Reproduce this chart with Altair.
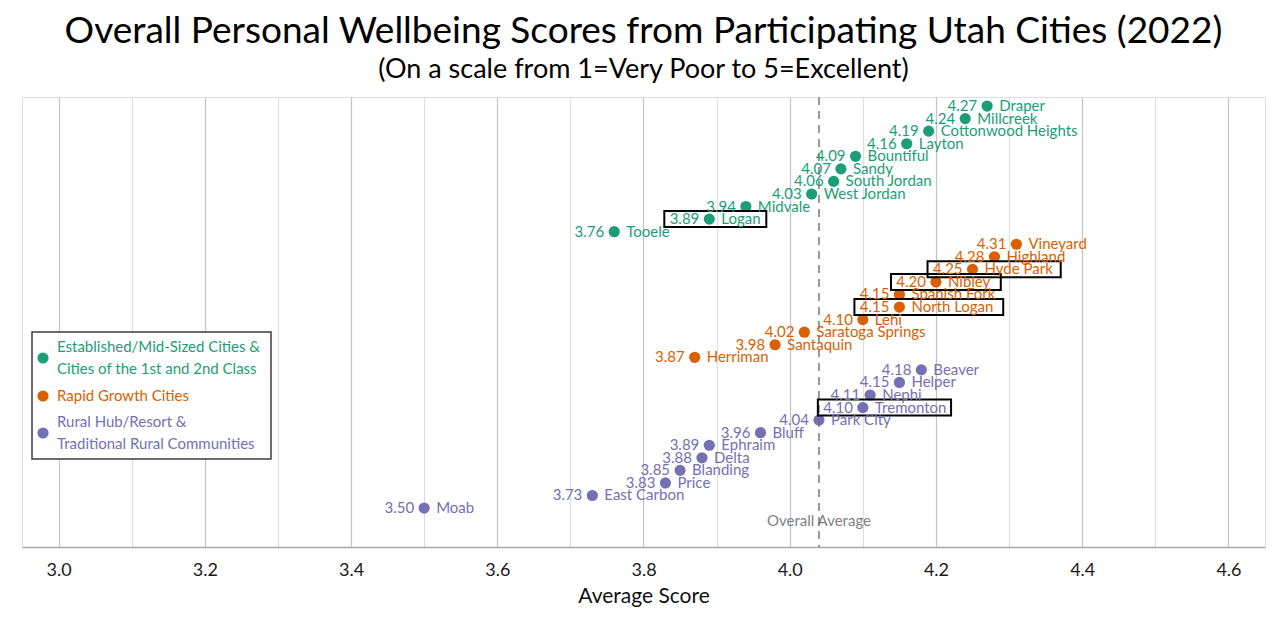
import altair as alt
import pandas as pd

# ---- data -------------------------------------------------------------
ESTABLISHED_CITIES = ["Draper", "Millcreek", "Cottonwood Heights", "Layton", "Bountiful",
                      "Sandy", "South Jordan", "West Jordan", "Midvale", "Logan", "Tooele"]
ESTABLISHED_SCORES = [4.27, 4.24, 4.19, 4.16, 4.09, 4.07, 4.06, 4.03, 3.94, 3.89, 3.76]

RAPID_CITIES = ["Vineyard", "Highland", "Hyde Park", "Nibley", "Spanish Fork",
                "North Logan", "Lehi", "Saratoga Springs", "Santaquin", "Herriman"]
RAPID_SCORES = [4.31, 4.28, 4.25, 4.20, 4.15, 4.15, 4.10, 4.02, 3.98, 3.87]

RURAL_CITIES = ["Beaver", "Helper", "Nephi", "Tremonton", "Park City", "Bluff",
                "Ephraim", "Delta", "Blanding", "Price", "East Carbon", "Moab"]
RURAL_SCORES = [4.18, 4.15, 4.11, 4.10, 4.04, 3.96, 3.89, 3.88, 3.85, 3.83, 3.73, 3.50]

HIGHLIGHTED = ["Logan", "Hyde Park", "Nibley", "North Logan", "Tremonton"]

GROUP_KEYS = ["established", "rapid", "rural"]
GROUP_COLORS = ["#1b9e77", "#d95f02", "#7570b3"]
LEGEND_LABELS = [
    "Established/Mid-Sized Cities &\nCities of the 1st and 2nd Class",
    "Rapid Growth Cities",
    "Rural Hub/Resort &\nTraditional Rural Communities",
]

OVERALL_AVG = 4.04
X_TICKS = [3.0, 3.1, 3.2, 3.3, 3.4, 3.5, 3.6, 3.7, 3.8, 3.9,
           4.0, 4.1, 4.2, 4.3, 4.4, 4.5, 4.6]

# ---- layout -----------------------------------------------------------
FONT = "Lato"
W, H = 1243, 450
X_DOMAIN = [2.95, 4.65]
PX_PER_UNIT = W / (X_DOMAIN[1] - X_DOMAIN[0])
LABEL_SIZE = 15
VALUE_GAP = 10      # px between dot and value label
NAME_GAP = 12       # px between dot and city name
CHAR_W = 7.8        # approximate px per character of a city name
VALUE_W = 30        # approximate px width of a "4.25" label
LEGEND_LINE = 22

rows = []
for key, names, scores in [("established", ESTABLISHED_CITIES, ESTABLISHED_SCORES),
                           ("rapid", RAPID_CITIES, RAPID_SCORES),
                           ("rural", RURAL_CITIES, RURAL_SCORES)]:
    for n, s in zip(names, scores):
        rows.append({"city": n, "score": s, "group": key})
df = pd.DataFrame(rows)
df["row"] = range(len(df))
df["boxed"] = df["city"].isin(HIGHLIGHTED)

x_scale = alt.Scale(domain=X_DOMAIN, nice=False, zero=False)
y_scale = alt.Scale(domain=[-0.72, 35.1], reverse=True, nice=False, zero=False)
color_scale = alt.Scale(domain=GROUP_KEYS, range=GROUP_COLORS)

x_axis = alt.Axis(
    values=X_TICKS,
    labelExpr="round(datum.value*10) % 2 == 0 ? format(datum.value, '.1f') : ''",
    labelOverlap=False,
    labelFlush=False,
    grid=True,
    gridColor=alt.condition("round(datum.value*10) % 2 == 0",
                            alt.value("#c4c4c4"), alt.value("#dedede")),
    gridWidth=1.2,
    ticks=False,
    tickSize=0,
    labelPadding=14,
    labelFontSize=18,
    labelColor="#1a1a1a",
    labelFont=FONT,
    domainColor="#a9a9a9",
    domainWidth=1.5,
    title="Average Score",
    titleFontSize=21,
    titleFontWeight="normal",
    titleFont=FONT,
    titleColor="#111111",
    titlePadding=6,
)

base = alt.Chart(df)

X = alt.X("score:Q", scale=x_scale, axis=x_axis)
Y = alt.Y("row:Q", scale=y_scale, axis=None)
C = alt.Color("group:N", scale=color_scale, legend=None)

points = base.mark_circle(size=125, opacity=1).encode(x=X, y=Y, color=C)

values = base.mark_text(align="right", baseline="middle", dx=-VALUE_GAP,
                        font=FONT, fontSize=LABEL_SIZE).encode(
    x="score:Q", y="row:Q", color=C, text=alt.Text("score:Q", format=".2f"))

names = base.mark_text(align="left", baseline="middle", dx=NAME_GAP,
                       font=FONT, fontSize=LABEL_SIZE).encode(
    x="score:Q", y="row:Q", color=C, text="city:N")

boxes = base.transform_filter("datum.boxed").transform_calculate(
    xl=f"datum.score - ({VALUE_GAP} + {VALUE_W} + 5) / {PX_PER_UNIT}",
    xr=f"datum.score + ({NAME_GAP} + length(datum.city) * {CHAR_W} + 6) / {PX_PER_UNIT}",
).mark_rect(filled=False, stroke="black", strokeWidth=2, yOffset=-8, y2Offset=8).encode(
    x="xl:Q", x2="xr:Q", y="row:Q", y2="row:Q")

avg_df = pd.DataFrame({"avg": [OVERALL_AVG], "row": [len(df)], "label": ["Overall Average"]})
avg_rule = alt.Chart(avg_df).mark_rule(color="#6e6e6e", strokeWidth=1.4,
                                       strokeDash=[8, 6]).encode(x="avg:Q")
avg_text = alt.Chart(avg_df).mark_text(color="#7f7f7f", font=FONT, fontSize=15,
                                       baseline="middle").encode(
    x="avg:Q", y="row:Q", text="label:N")

# ---- hand-built legend box (pixel positions inside the plot area) ------
legend_layers = [
    alt.Chart(avg_df).mark_rect(fill="white", stroke="#3c3c3c", strokeWidth=1.5).encode(
        x=alt.value(10), x2=alt.value(249), y=alt.value(235), y2=alt.value(362))
]
LEGEND_Y = [261, 299, 336]
for key, label, ly in zip(GROUP_KEYS, LEGEND_LABELS, LEGEND_Y):
    ldf = pd.DataFrame({"group": [key], "label": [label]})
    n_lines = label.count("\n") + 1
    legend_layers.append(alt.Chart(ldf).mark_circle(size=125, opacity=1).encode(
        x=alt.value(21), y=alt.value(ly), color=C))
    legend_layers.append(alt.Chart(ldf).mark_text(
        align="left", baseline="middle", lineBreak="\n", lineHeight=LEGEND_LINE,
        dy=-(n_lines - 1) * LEGEND_LINE / 2, font=FONT, fontSize=15).encode(
        x=alt.value(35), y=alt.value(ly), color=C, text="label:N"))

chart = alt.layer(
    points, avg_text, avg_rule, boxes, values, names, *legend_layers
).properties(
    width=W,
    height=H,
    padding={"left": 22, "top": 13, "right": 15, "bottom": 8},
    title=alt.TitleParams(
        text="Overall Personal Wellbeing Scores from Participating Utah Cities (2022)",
        subtitle="(On a scale from 1=Very Poor to 5=Excellent)",
        font=FONT, fontSize=37, fontWeight="normal", color="black",
        subtitleFont=FONT, subtitleFontSize=27, subtitleColor="black",
        subtitlePadding=6, anchor="middle", offset=12,
    ),
).configure_view(
    stroke="#cfcfcf", strokeWidth=1.5
).configure(background="white")

chart.save("out.html", embed_options={"renderer": "svg", "actions": False})
